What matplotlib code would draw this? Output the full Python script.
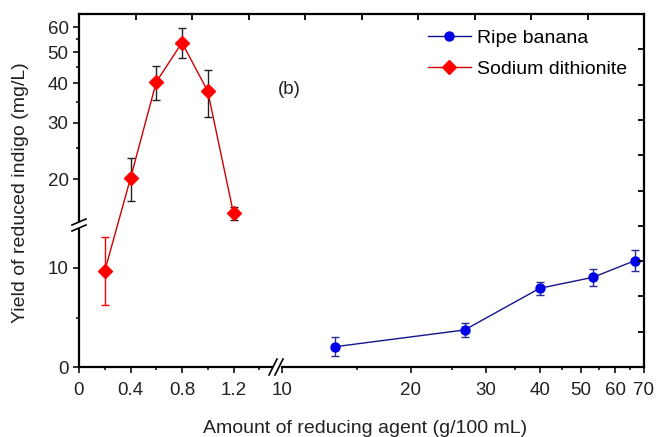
import numpy as np
import matplotlib
matplotlib.use("Agg")
import matplotlib.pyplot as plt
from matplotlib.lines import Line2D
from matplotlib.patches import Rectangle
from matplotlib.transforms import Affine2D

plt.rcParams['font.family'] = ['Liberation Sans', 'DejaVu Sans']

# Sodium dithionite (g/100 mL -> mg/L)
na_x = [0.2, 0.4, 0.6, 0.8, 1.0, 1.2]
na_y = [9.7, 20.1, 40.3, 53.6, 37.7, 15.6]
na_err = [3.4, 3.1, 4.8, 5.8, 6.3, 0.75]

# Ripe banana
ban_x = [13.3, 26.7, 40.0, 53.3, 66.7]
ban_y = [2.05, 3.74, 7.95, 9.06, 10.74]
ban_err = [0.98, 0.69, 0.64, 0.83, 1.03]

x_major = [0, 0.4, 0.8, 1.2, 10, 20, 30, 40, 50, 60, 70]
x_labels = ['0', '0.4', '0.8', '1.2', '10', '20', '30', '40', '50', '60', '70']
x_minor = [0.2, 0.6, 1.0, 1.4, 15, 25, 35, 45, 55, 65]
y_major = [0, 10, 20, 30, 40, 50, 60]
y_labels = ['0', '10', '20', '30', '40', '50', '60']
y_minor = [5, 25, 35, 45, 55]

# broken scales, in pixels of the axes box
W, H = 565, 353
XLIN, XB, X10, XDEC = 128.75, 1.54, 203.0, 428.0
YLIN, YB, YDEC = 9.9, 14.3, 318.6


def fx(x):
    x = np.asarray(x, float)
    p0 = XB * XLIN
    lin = x * XLIN
    mid = p0 + (x - XB) / (10 - XB) * (X10 - p0)
    lg = X10 + XDEC * np.log10(np.clip(x, 10, None) / 10)
    return np.where(x <= XB, lin, np.where(x < 10, mid, lg))


def ix(p):
    p = np.asarray(p, float)
    p0 = XB * XLIN
    lin = p / XLIN
    mid = XB + (p - p0) / (X10 - p0) * (10 - XB)
    lg = 10 * 10 ** (np.clip(p - X10, -2000, 2000) / XDEC)
    return np.where(p <= p0, lin, np.where(p < X10, mid, lg))


def fy(y):
    y = np.asarray(y, float)
    y0 = YB * YLIN
    return np.where(y <= YB, y * YLIN,
                    y0 + YDEC * np.log10(np.clip(y, YB, None) / YB))


def iy(p):
    p = np.asarray(p, float)
    y0 = YB * YLIN
    return np.where(p <= y0, p / YLIN,
                    YB * 10 ** (np.clip(p - y0, -2000, 2000) / YDEC))


fig = plt.figure(figsize=(6.59, 4.37), dpi=100)
rect = [79 / 659, 70 / 437, W / 659, H / 437]
ax = fig.add_axes(rect)
ax.set_xscale('function', functions=(fx, ix))
ax.set_yscale('function', functions=(fy, iy))
ax.set_xlim(0, float(ix(W)))
ax.set_ylim(0, float(iy(H)))

px = Affine2D().scale(1 / W, 1 / H) + ax.transAxes

# data
ax.errorbar(ban_x, ban_y, yerr=ban_err, fmt='none', ecolor='#2a2a90',
            elinewidth=1, capsize=3, capthick=1, zorder=2)
ax.plot(ban_x, ban_y, color='#14148a', lw=1, marker='o', ms=6.5,
        mfc='#0000e6', mec='#0000e6', zorder=3)

ax.errorbar(na_x[:1], na_y[:1], yerr=na_err[:1], fmt='none', ecolor='red',
            elinewidth=1, capsize=3, capthick=1, zorder=2)
ax.errorbar(na_x[1:], na_y[1:], yerr=na_err[1:], fmt='none', ecolor='#222222',
            elinewidth=1, capsize=3, capthick=1, zorder=2)
ax.plot(na_x, na_y, color='#d00000', lw=1, marker='D', ms=7,
        mfc='red', mec='red', zorder=3)

# gap in the data area at the y break
ax.add_patch(Rectangle((0, 137), 190, 8, transform=px, color='white',
                       lw=0, zorder=2.5))

# axes styling
for s in ['left', 'bottom', 'top', 'right']:
    ax.spines[s].set_linewidth(1.6)
ax.set_xticks(x_major)
ax.set_xticklabels(x_labels)
ax.set_xticks(x_minor, minor=True)
ax.set_yticks(y_major)
ax.set_yticklabels(y_labels)
ax.set_yticks(y_minor, minor=True)
ax.tick_params(which='major', direction='out', length=4.5, width=1.3,
               labelsize=13.5, colors='#222222')
ax.tick_params(which='minor', direction='out', length=2.5, width=1.1)
ax.tick_params(axis='x', which='major', pad=6)
ax.tick_params(axis='y', which='major', pad=3)

# top / right ticks: plain 10 divisions, inward
ax2 = fig.add_axes(rect, frameon=False)
ax2.set_xlim(0, 1)
ax2.set_ylim(0, 1)
ax2.xaxis.tick_top()
ax2.yaxis.tick_right()
ax2.set_xticks(np.linspace(0, 1, 11))
ax2.set_yticks(np.linspace(0, 1, 11))
ax2.tick_params(direction='in', length=4, width=1.3,
                labeltop=False, labelright=False)
ax2.patch.set_visible(False)

# break marks
ax.add_patch(Rectangle((-9, 139), 14, 6, transform=px, color='white',
                       lw=0, clip_on=False, zorder=5))
ax.add_patch(Rectangle((194, -9), 8, 14, transform=px, color='white',
                       lw=0, clip_on=False, zorder=5))
for d in (0, 6):
    ax.add_line(Line2D([-7, 7], [136 + d, 142 + d], transform=px, color='k',
                       lw=1.2, clip_on=False, zorder=6))
    ax.add_line(Line2D([190 + d, 198 + d], [-8, 8], transform=px, color='k',
                       lw=1.2, clip_on=False, zorder=6))

ax.text(210, 277, '(b)', transform=px, fontsize=13.5, color='#222222',
        ha='center', va='center')

handles = [Line2D([], [], color='#14148a', lw=1, marker='o', ms=6.5,
                  mfc='#0000e6', mec='#0000e6'),
           Line2D([], [], color='#d00000', lw=1, marker='D', ms=7,
                  mfc='red', mec='red')]
ax.legend(handles, ['Ripe banana', 'Sodium dithionite'], loc='upper left',
          bbox_to_anchor=(349 / W, 1 - 15 / H), frameon=False, fontsize=14,
          handlelength=2.2, handletextpad=0.3, labelspacing=0.7,
          borderpad=0, borderaxespad=0)

fig.text(365 / 659, 1 - 433 / 437, 'Amount of reducing agent (g/100 mL)',
         ha='center', va='baseline', fontsize=14, color='#222222')
fig.text(21 / 659, 1 - 193 / 437, 'Yield of reduced indigo (mg/L)',
         ha='center', va='center', rotation=90, fontsize=14, color='#222222')

fig.savefig('out.png', dpi=100)
